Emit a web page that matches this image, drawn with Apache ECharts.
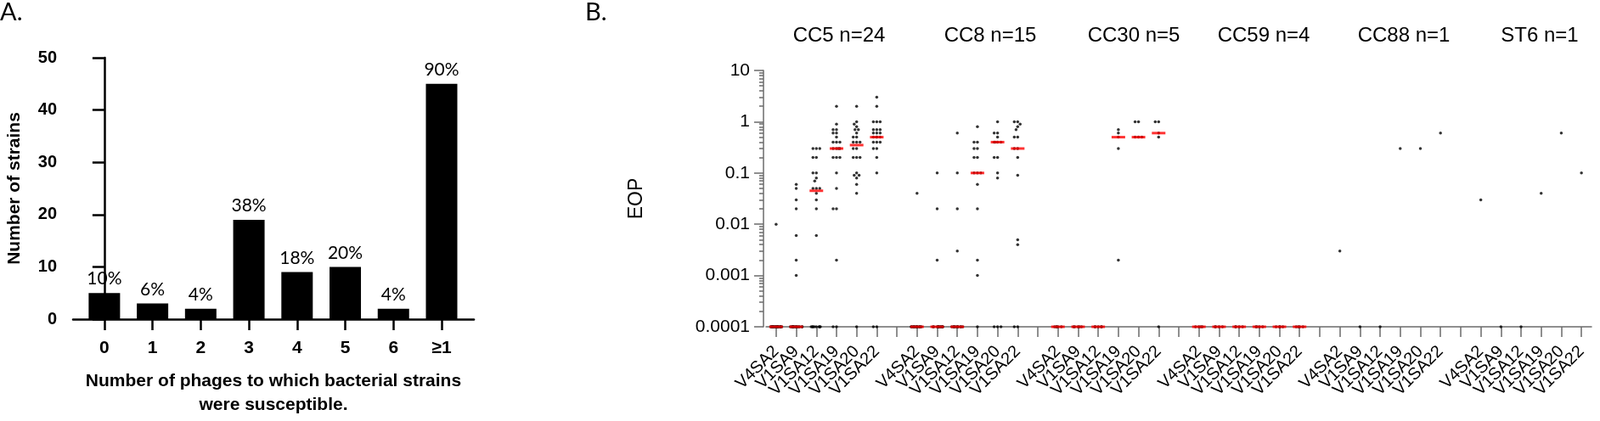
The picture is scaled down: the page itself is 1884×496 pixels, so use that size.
<!DOCTYPE html>
<html>
<head>
<meta charset="utf-8">
<script src="https://cdn.jsdelivr.net/npm/echarts@6/dist/echarts.min.js"></script>
<style>
html, body { margin: 0; padding: 0; background: #fff; }
#chart { width: 1884px; height: 496px; }
</style>
</head>
<body>
<div id="chart"></div>
<script>
// ---- panel A : number of phages each strain was susceptible to ----
const phageCounts = ['0', '1', '2', '3', '4', '5', '6', '≥1']
const strainCounts = [5, 3, 2, 19, 9, 10, 2, 45]
const strainPct = ['10%', '6%', '4%', '38%', '18%', '20%', '4%', '90%']

// ---- panel B : EOP per phage, per clonal complex ----
const phages = ['V4SA2', 'V1SA9', 'V1SA12', 'V1SA19', 'V1SA20', 'V1SA22']
const groupNames = ['CC5 n=24', 'CC8 n=15', 'CC30 n=5', 'CC59 n=4', 'CC88 n=1', 'ST6 n=1']
// one entry per phage, as [EOP value, number of strains]
const cc5 = [
    [[0.01, 1], [0.0001, 23]],
    [[0.06, 1], [0.05, 1], [0.03, 1], [0.02, 1], [0.006, 1], [0.002, 1], [0.001, 1], [0.0001, 17]],
    [[0.3, 3], [0.2, 2], [0.1, 2], [0.08, 1], [0.07, 1], [0.05, 3], [0.04, 1], [0.03, 1], [0.02, 1], [0.006, 1], [0.0001, 8]],
    [[2, 1], [0.9, 1], [0.7, 2], [0.6, 2], [0.5, 1], [0.4, 3], [0.3, 4], [0.2, 3], [0.1, 1], [0.05, 1], [0.02, 2], [0.002, 1], [0.0001, 2]],
    [[2, 1], [1, 1], [0.9, 1], [0.8, 1], [0.7, 2], [0.6, 1], [0.5, 2], [0.4, 3], [0.3, 2], [0.2, 3], [0.1, 1], [0.09, 2], [0.08, 1], [0.06, 1], [0.04, 1], [0.0001, 1]],
    [[3, 1], [2, 1], [1, 3], [0.7, 3], [0.6, 3], [0.5, 4], [0.4, 3], [0.3, 2], [0.2, 1], [0.1, 1], [0.0001, 2]]
]
const cc8 = [
    [[0.04, 1], [0.0001, 14]],
    [[0.1, 1], [0.02, 1], [0.002, 1], [0.0001, 12]],
    [[0.6, 1], [0.1, 1], [0.02, 1], [0.003, 1], [0.0001, 11]],
    [[0.8, 1], [0.4, 2], [0.3, 2], [0.2, 2], [0.1, 3], [0.06, 1], [0.02, 1], [0.002, 1], [0.001, 1], [0.0001, 1]],
    [[1, 1], [0.6, 2], [0.5, 1], [0.4, 4], [0.2, 2], [0.1, 1], [0.08, 1], [0.0001, 3]],
    [[1, 2], [0.9, 1], [0.8, 1], [0.7, 1], [0.5, 2], [0.3, 2], [0.2, 1], [0.09, 1], [0.005, 1], [0.004, 1], [0.0001, 2]]
]
const cc30 = [
    [[0.0001, 5]],
    [[0.0001, 5]],
    [[0.0001, 5]],
    [[0.7, 1], [0.6, 1], [0.5, 1], [0.3, 1], [0.002, 1]],
    [[1, 2], [0.5, 3]],
    [[1, 2], [0.6, 1], [0.5, 1], [0.0001, 1]]
]
const cc59 = [
    [[0.0001, 4]],
    [[0.0001, 4]],
    [[0.0001, 4]],
    [[0.0001, 4]],
    [[0.0001, 4]],
    [[0.0001, 4]]
]
const cc88 = [[[0.003, 1]], [[0.0001, 1]], [[0.0001, 1]], [[0.3, 1]], [[0.3, 1]], [[0.6, 1]]]
const st6 = [[[0.03, 1]], [[0.0001, 1]], [[0.0001, 1]], [[0.04, 1]], [[0.6, 1]], [[0.1, 1]]]
const groupData = [cc5, cc8, cc30, cc59, cc88, st6]

// layout of the group headers (pixel centres)
const groupTitleX = [988, 1166, 1335, 1488, 1653, 1813]

const median = function (values) {
    const s = values.slice().sort((a, b) => a - b)
    const m = s.length >> 1
    return s.length % 2 ? s[m] : (s[m - 1] + s[m]) / 2
}

// build category slots (one empty slot between groups), dots and medians
const categories = []
const dots = []
const medians = []
groupData.forEach((group, g) => {
    if (g > 0) categories.push('')
    group.forEach((tally, p) => {
        const idx = categories.length
        categories.push(phages[p])
        const values = []
        tally.forEach(([v, n]) => {
            for (let k = 0; k < n; k++) values.push(v)
        })
        values.forEach(v => dots.push([idx, v]))
        if (values.length > 1) medians.push([idx, median(values)])
    })
})

const arial = 'Liberation Sans, Arial, sans-serif'
const calibri = 'Lato, Open Sans, sans-serif'
const greyLine = { color: '#6b6b6b', width: 1.5 }
const blackLine = { color: '#000', width: 2.5 }

const chart = echarts.init(document.getElementById('chart'))
chart.setOption({
    animation: false,
    grid: [
        { left: 86, right: 1326, top: 68, bottom: 111 },
        { left: 902, right: 10, top: 83, bottom: 111 }
    ],
    xAxis: [
        {
            gridIndex: 0,
            type: 'value',
            min: -0.65,
            max: 7.67,
            splitLine: { show: false },
            axisLine: { show: true, onZero: false, lineStyle: blackLine },
            axisTick: { show: true, length: 13, customValues: phageCounts.map((_, i) => i), lineStyle: blackLine },
            axisLabel: {
                customValues: phageCounts.map((_, i) => i),
                formatter: v => phageCounts[v],
                fontFamily: arial, fontWeight: 'bold', fontSize: 21, color: '#000', margin: 24
            },
            name: 'Number of phages to which bacterial strains\nwere susceptible.',
            nameLocation: 'middle',
            nameGap: 59,
            nameTextStyle: { fontFamily: arial, fontWeight: 'bold', fontSize: 21, lineHeight: 28, color: '#000' }
        },
        {
            gridIndex: 1,
            type: 'category',
            data: categories,
            boundaryGap: true,
            jitter: 14,
            jitterOverlap: false,
            jitterMargin: 0.5,
            axisLine: { show: true, onZero: false, lineStyle: greyLine },
            axisTick: { show: true, alignWithLabel: true, interval: 0, length: 12, lineStyle: greyLine },
            axisLabel: { interval: 0, rotate: 45, fontFamily: arial, fontSize: 20, color: '#000', margin: 26 },
            splitLine: { show: false }
        },
        {
            gridIndex: 1,
            type: 'category',
            data: categories,
            boundaryGap: true,
            show: false
        }
    ],
    yAxis: [
        {
            gridIndex: 0,
            type: 'value',
            min: 0,
            max: 50,
            interval: 10,
            splitLine: { show: false },
            axisLine: { show: true, lineStyle: blackLine },
            axisTick: { show: true, length: 14, lineStyle: blackLine },
            axisLabel: { fontFamily: arial, fontWeight: 'bold', fontSize: 20, color: '#000', margin: 19 },
            name: 'Number of strains',
            nameLocation: 'middle',
            nameGap: 58,
            nameTextStyle: { fontFamily: arial, fontWeight: 'bold', fontSize: 21, color: '#000' }
        },
        {
            gridIndex: 1,
            type: 'log',
            logBase: 10,
            min: 0.0001,
            max: 10,
            splitNumber: 5,
            offset: 3,
            splitLine: { show: false },
            axisLine: { show: true, lineStyle: greyLine },
            axisTick: { show: true, length: 11, lineStyle: greyLine },
            minorTick: { show: true, splitNumber: 9, length: 5, lineStyle: greyLine },
            axisLabel: {
                fontFamily: arial, fontSize: 21, color: '#000', margin: 16,
                formatter: v => String(Number(v.toPrecision(1)))
            },
            name: 'EOP',
            nameLocation: 'middle',
            nameGap: 138,
            nameTextStyle: { fontFamily: arial, fontSize: 23, color: '#000' }
        }
    ],
    graphic: [
        { type: 'text', left: 0, top: 0, style: { text: 'A.', font: '29px ' + calibri, fill: '#000' } },
        { type: 'text', left: 689, top: 0, style: { text: 'B.', font: '29px ' + calibri, fill: '#000' } },
        ...groupNames.map((name, i) => ({
            type: 'text',
            x: groupTitleX[i],
            y: 42,
            style: { text: name, font: '24px ' + arial, fill: '#000', align: 'center', verticalAlign: 'middle' }
        }))
    ],
    series: [
        {
            type: 'bar',
            xAxisIndex: 0,
            yAxisIndex: 0,
            barWidth: 37,
            itemStyle: { color: '#000' },
            label: {
                show: true,
                position: 'top',
                distance: 6,
                formatter: p => strainPct[p.dataIndex],
                fontFamily: calibri, fontSize: 21, color: '#000'
            },
            data: strainCounts.map((v, i) => [i, v])
        },
        {
            type: 'scatter',
            xAxisIndex: 1,
            yAxisIndex: 1,
            symbol: 'circle',
            symbolSize: 3.5,
            clip: false,
            itemStyle: { color: '#000' },
            data: dots,
            z: 2
        },
        {
            type: 'scatter',
            xAxisIndex: 2,
            yAxisIndex: 1,
            symbol: 'rect',
            symbolSize: [16, 3],
            clip: false,
            itemStyle: { color: '#ff0000' },
            data: medians,
            z: 3
        }
    ]
})
</script>
</body>
</html>
